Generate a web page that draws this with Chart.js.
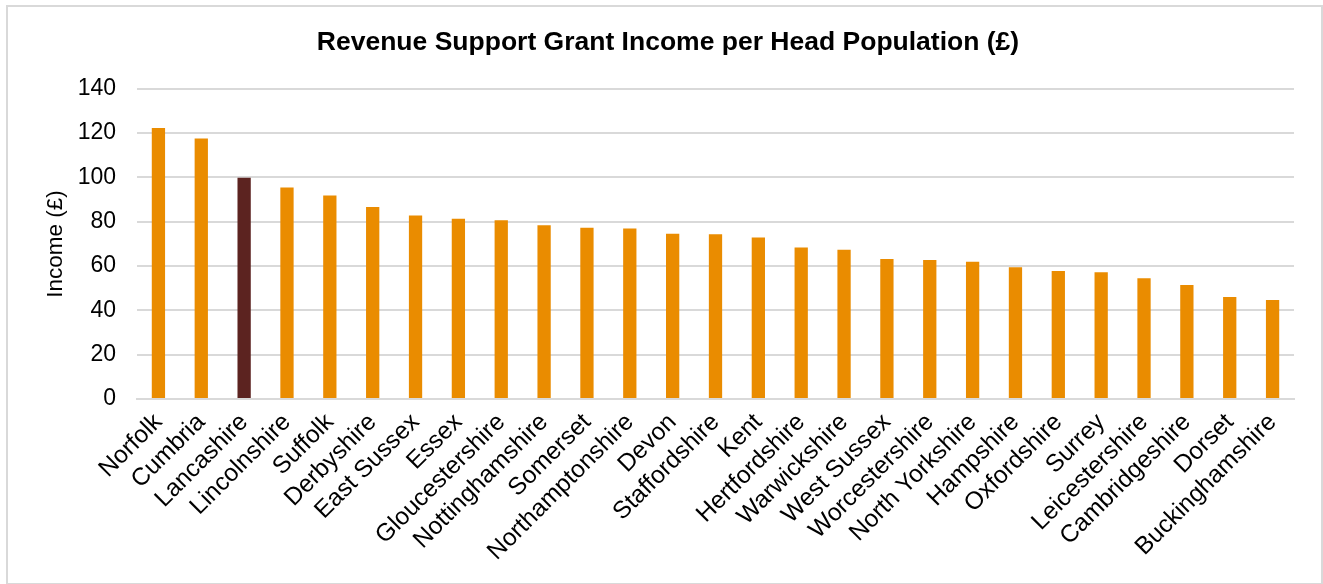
<!DOCTYPE html>
<html>
<head>
<meta charset="utf-8">
<script src="https://cdn.jsdelivr.net/npm/chart.js@4/dist/chart.umd.min.js"></script>
<style>
    html, body { margin: 0; padding: 0; background: #fff; }
    #caixa {
        position: absolute;
        left: 6px; top: 5px;
        width: 1313px; height: 576px;
        border: 2px solid #d9d9d9;
        background: #fff;
    }
    #grafico { display: block; }
</style>
</head>
<body>
<div id="caixa"><canvas id="grafico" width="1313" height="576"></canvas></div>
<script>
const condados = [
    "Norfolk", "Cumbria", "Lancashire", "Lincolnshire", "Suffolk", "Derbyshire",
    "East Sussex", "Essex", "Gloucestershire", "Nottinghamshire", "Somerset",
    "Northamptonshire", "Devon", "Staffordshire", "Kent", "Hertfordshire",
    "Warwickshire", "West Sussex", "Worcestershire", "North Yorkshire", "Hampshire",
    "Oxfordshire", "Surrey", "Leicestershire", "Cambridgeshire", "Dorset", "Buckinghamshire"
];

const rendaPorHabitante = [
    122.3, 117.6, 99.8, 95.5, 91.9, 86.6,
    82.8, 81.4, 80.7, 78.4, 77.3,
    77.0, 74.6, 74.3, 72.9, 68.4,
    67.4, 63.2, 62.7, 61.9, 59.5,
    57.8, 57.2, 54.5, 51.5, 46.0, 44.7
];

const destaque = "Lancashire";
const corPadrao = "#EA8C00";
const corDestaque = "#5C2320";

const ticksY = [0, 20, 40, 60, 80, 100, 120, 140];

const fonte = "'Liberation Sans', Arial, sans-serif";

const ctx = document.getElementById("grafico");

new Chart(ctx, {
    type: "bar",
    data: {
        labels: condados,
        datasets: [{
            label: "Income (£)",
            data: rendaPorHabitante,
            backgroundColor: condados.map(c => c === destaque ? corDestaque : corPadrao),
            borderWidth: 0,
            barPercentage: 0.31,
            categoryPercentage: 1
        }]
    },
    options: {
        responsive: false,
        animation: false,
        layout: { padding: { left: 34, right: 27, top: 0, bottom: 0 } },
        plugins: {
            legend: { display: false },
            tooltip: { enabled: false },
            title: {
                display: true,
                text: "Revenue Support Grant Income per Head Population (£)",
                color: "#000",
                font: { family: fonte, size: 26.5, weight: "bold" },
                padding: { top: 20, bottom: 30 }
            }
        },
        scales: {
            x: {
                grid: { display: false, drawTicks: false },
                border: { display: true, color: "#d9d9d9", width: 2 },
                ticks: {
                    color: "#000",
                    font: { family: fonte, size: 24.5 },
                    minRotation: 45,
                    maxRotation: 45,
                    autoSkip: false,
                    padding: 9
                },
                afterFit: scale => { scale.height = 184; }
            },
            y: {
                min: 0,
                max: 140,
                afterBuildTicks: scale => {
                    scale.ticks = ticksY.map(v => ({ value: v }));
                },
                grid: { color: "#d9d9d9", lineWidth: 2, drawTicks: false },
                border: { display: false },
                ticks: {
                    color: "#000",
                    font: { family: fonte, size: 23 },
                    padding: 21
                },
                title: {
                    display: true,
                    text: "Income (£)",
                    color: "#000",
                    font: { family: fonte, size: 22.5 },
                    padding: { top: 0, bottom: 0 }
                },
                afterFit: scale => { scale.width = 95; }
            }
        }
    }
});
</script>
</body>
</html>
